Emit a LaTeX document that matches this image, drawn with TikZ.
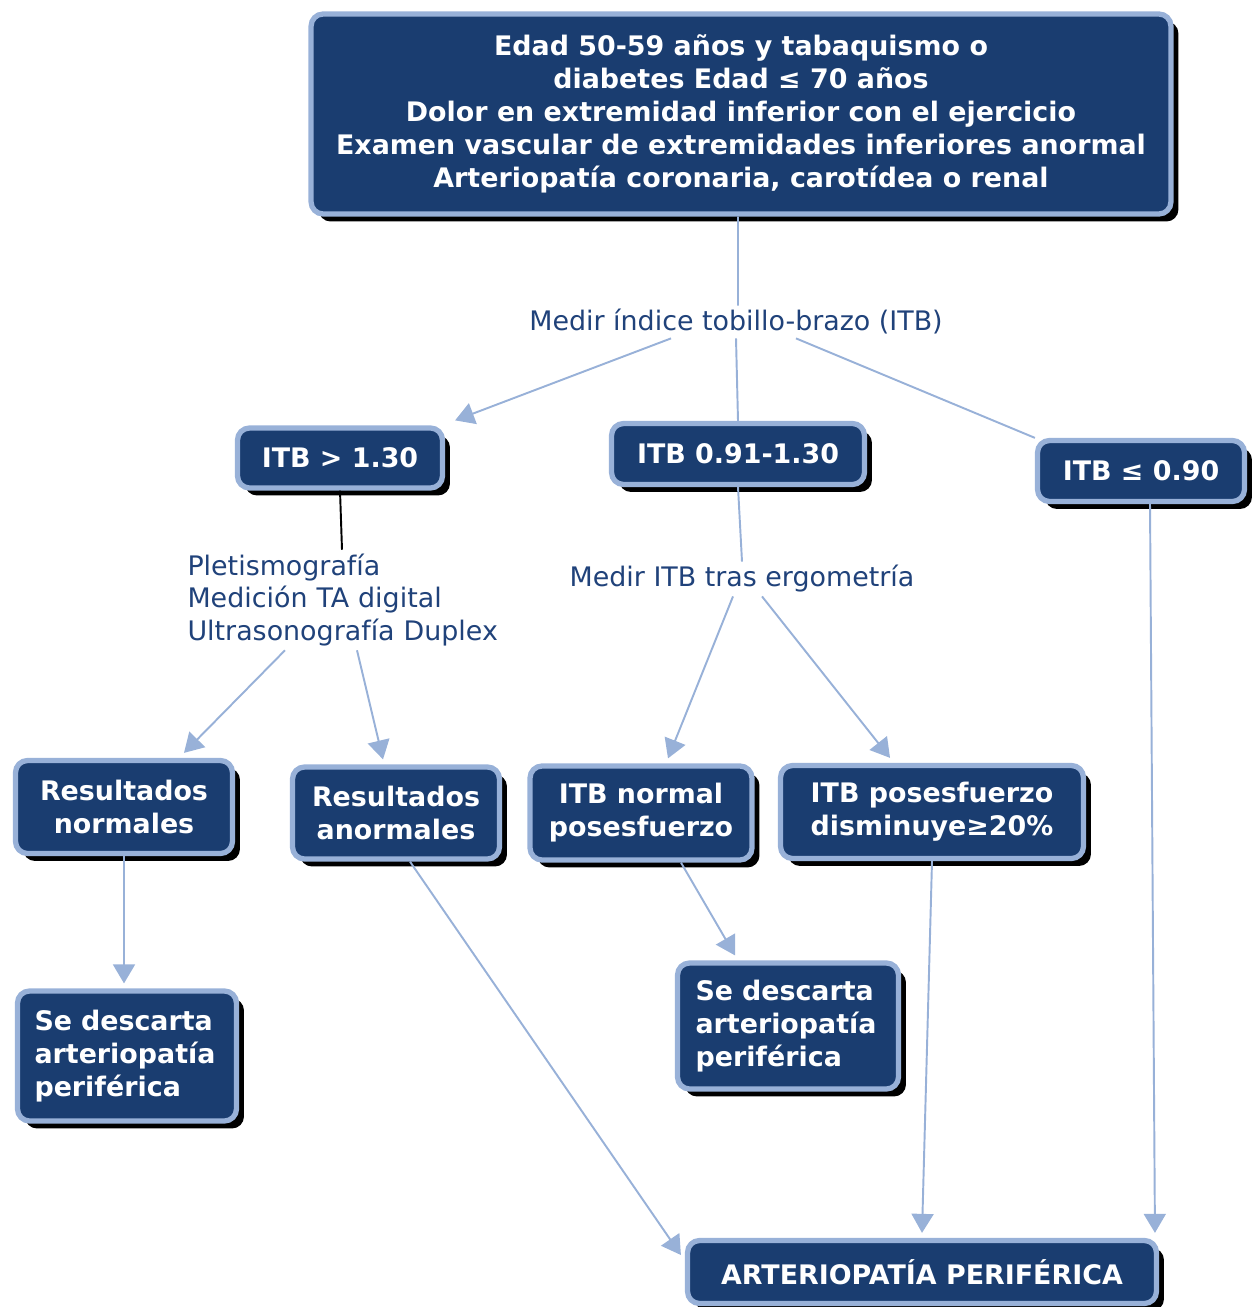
\documentclass[tikz,border=0pt]{standalone}
\usepackage{fontspec}
\setmainfont{DejaVu Sans}
\usetikzlibrary{shapes,arrows.meta,shadows}
\definecolor{navy}{RGB}{26,61,112}
\definecolor{paleblue}{RGB}{152,177,216}
\definecolor{labelblue}{RGB}{32,66,122}
\tikzstyle{block} = [rectangle, draw=paleblue, fill=navy, line width=3pt, rounded corners=0.24cm, text=white, align=center, font=\fontsize{15.3}{18.7}\selectfont\bfseries, drop shadow={shadow xshift=0.15cm, shadow yshift=-0.15cm, fill=black, opacity=1}]
\tikzstyle{leftblock} = [block, align=left, text width=3.7cm]
\tikzstyle{note} = [text=labelblue, align=center, inner sep=2pt, font=\fontsize{15.3}{18.7}\selectfont]
\tikzstyle{line} = [draw=paleblue, line width=1.1pt]
\tikzstyle{flow} = [line, -{Triangle[width=0.44cm, length=0.38cm]}]

\begin{document}
\begin{tikzpicture}[auto, x=0.02cm, y=-0.02cm]
\useasboundingbox (0,0) rectangle (1254,1307);

% criteria
\node [block, minimum width=17.2cm, minimum height=4cm] at (741, 114) (crit) {Edad 50-59 años y tabaquismo o\\ diabetes Edad ≤ 70 años\\ Dolor en extremidad inferior con el ejercicio\\ Examen vascular de extremidades inferiores anormal\\ Arteriopatía coronaria, carotídea o renal};
\node [note] at (736, 322) (itb) {Medir índice tobillo-brazo (ITB)};
\path [line] ([xshift=-0.06cm]crit.south) to ([xshift=0.04cm]itb.north);

% ITB ranges
\node [block, minimum width=4.1cm, minimum height=1.2cm] at (340, 458) (high) {ITB > 1.30};
\node [block, minimum width=5.06cm, minimum height=1.22cm] at (738, 454) (mid) {ITB 0.91-1.30};
\node [block, minimum width=4.14cm, minimum height=1.22cm] at (1141, 471) (low) {ITB ≤ 0.90};
\path [flow] ([xshift=-1.3cm]itb.south) to ([xshift=0.2cm, yshift=0.1cm]high.north east);
\path [line] (itb.south) to (mid.north);
\path [line] ([xshift=1.2cm]itb.south) to (low.north west);

% ITB > 1.30
\node [note, align=left, text width=6.3cm] at (345, 600) (tests) {Pletismografía\\ Medición TA digital\\ Ultrasonografía Duplex};
\path [draw, line width=1.1pt] (high.south) to ([xshift=-0.06cm]tests.north);
\node [block, minimum width=4.34cm, minimum height=1.86cm] at (124, 807) (normal) {Resultados\\ normales};
\node [block, minimum width=4.14cm, minimum height=1.84cm] at (396, 813) (abnormal) {Resultados\\ anormales};
\path [flow] ([xshift=-1.2cm]tests.south) to ([xshift=1.2cm, yshift=0.1cm]normal.north);
\path [flow] ([xshift=0.24cm]tests.south) to ([xshift=-0.26cm, yshift=0.1cm]abnormal.north);
\node [leftblock, minimum width=4.38cm, minimum height=2.6cm] at (127, 1056) (ruleleft) {Se descarta\\ arteriopatía\\ periférica};
\path [flow] (normal.south) to ([xshift=-0.06cm, yshift=0.1cm]ruleleft.north);

% ITB 0.91-1.30
\node [note] at (742, 579) (ergo) {Medir ITB tras ergometría};
\path [line] (mid.south) to (ergo.north);
\node [block, minimum width=4.44cm, minimum height=1.88cm] at (641, 813) (post) {ITB normal\\ posesfuerzo};
\node [block, minimum width=6.06cm, minimum height=1.86cm] at (932, 812) (drop) {ITB posesfuerzo\\ disminuye≥20\%};
\path [flow] ([xshift=-0.18cm]ergo.south) to ([xshift=0.54cm, yshift=0.1cm]post.north);
\path [flow] ([xshift=0.4cm]ergo.south) to ([xshift=-0.84cm, yshift=0.1cm]drop.north);
\node [leftblock, minimum width=4.42cm, minimum height=2.52cm] at (788, 1026) (rulemid) {Se descarta\\ arteriopatía\\ periférica};
\path [flow] ([xshift=0.8cm]post.south) to ([xshift=-1.06cm, yshift=0.1cm]rulemid.north);

% result
\node [block, minimum width=9.38cm, minimum height=1.26cm] at (922, 1272) (pad) {ARTERIOPATÍA PERIFÉRICA};
\path [flow] ([xshift=0.28cm]abnormal.south) to ([xshift=-0.08cm, yshift=0.34cm]pad.west);
\path [flow] (drop.south) to ([yshift=0.1cm]pad.north);
\path [flow] ([xshift=0.18cm]low.south) to ([xshift=4.66cm, yshift=0.1cm]pad.north);

\end{tikzpicture}
\end{document}
